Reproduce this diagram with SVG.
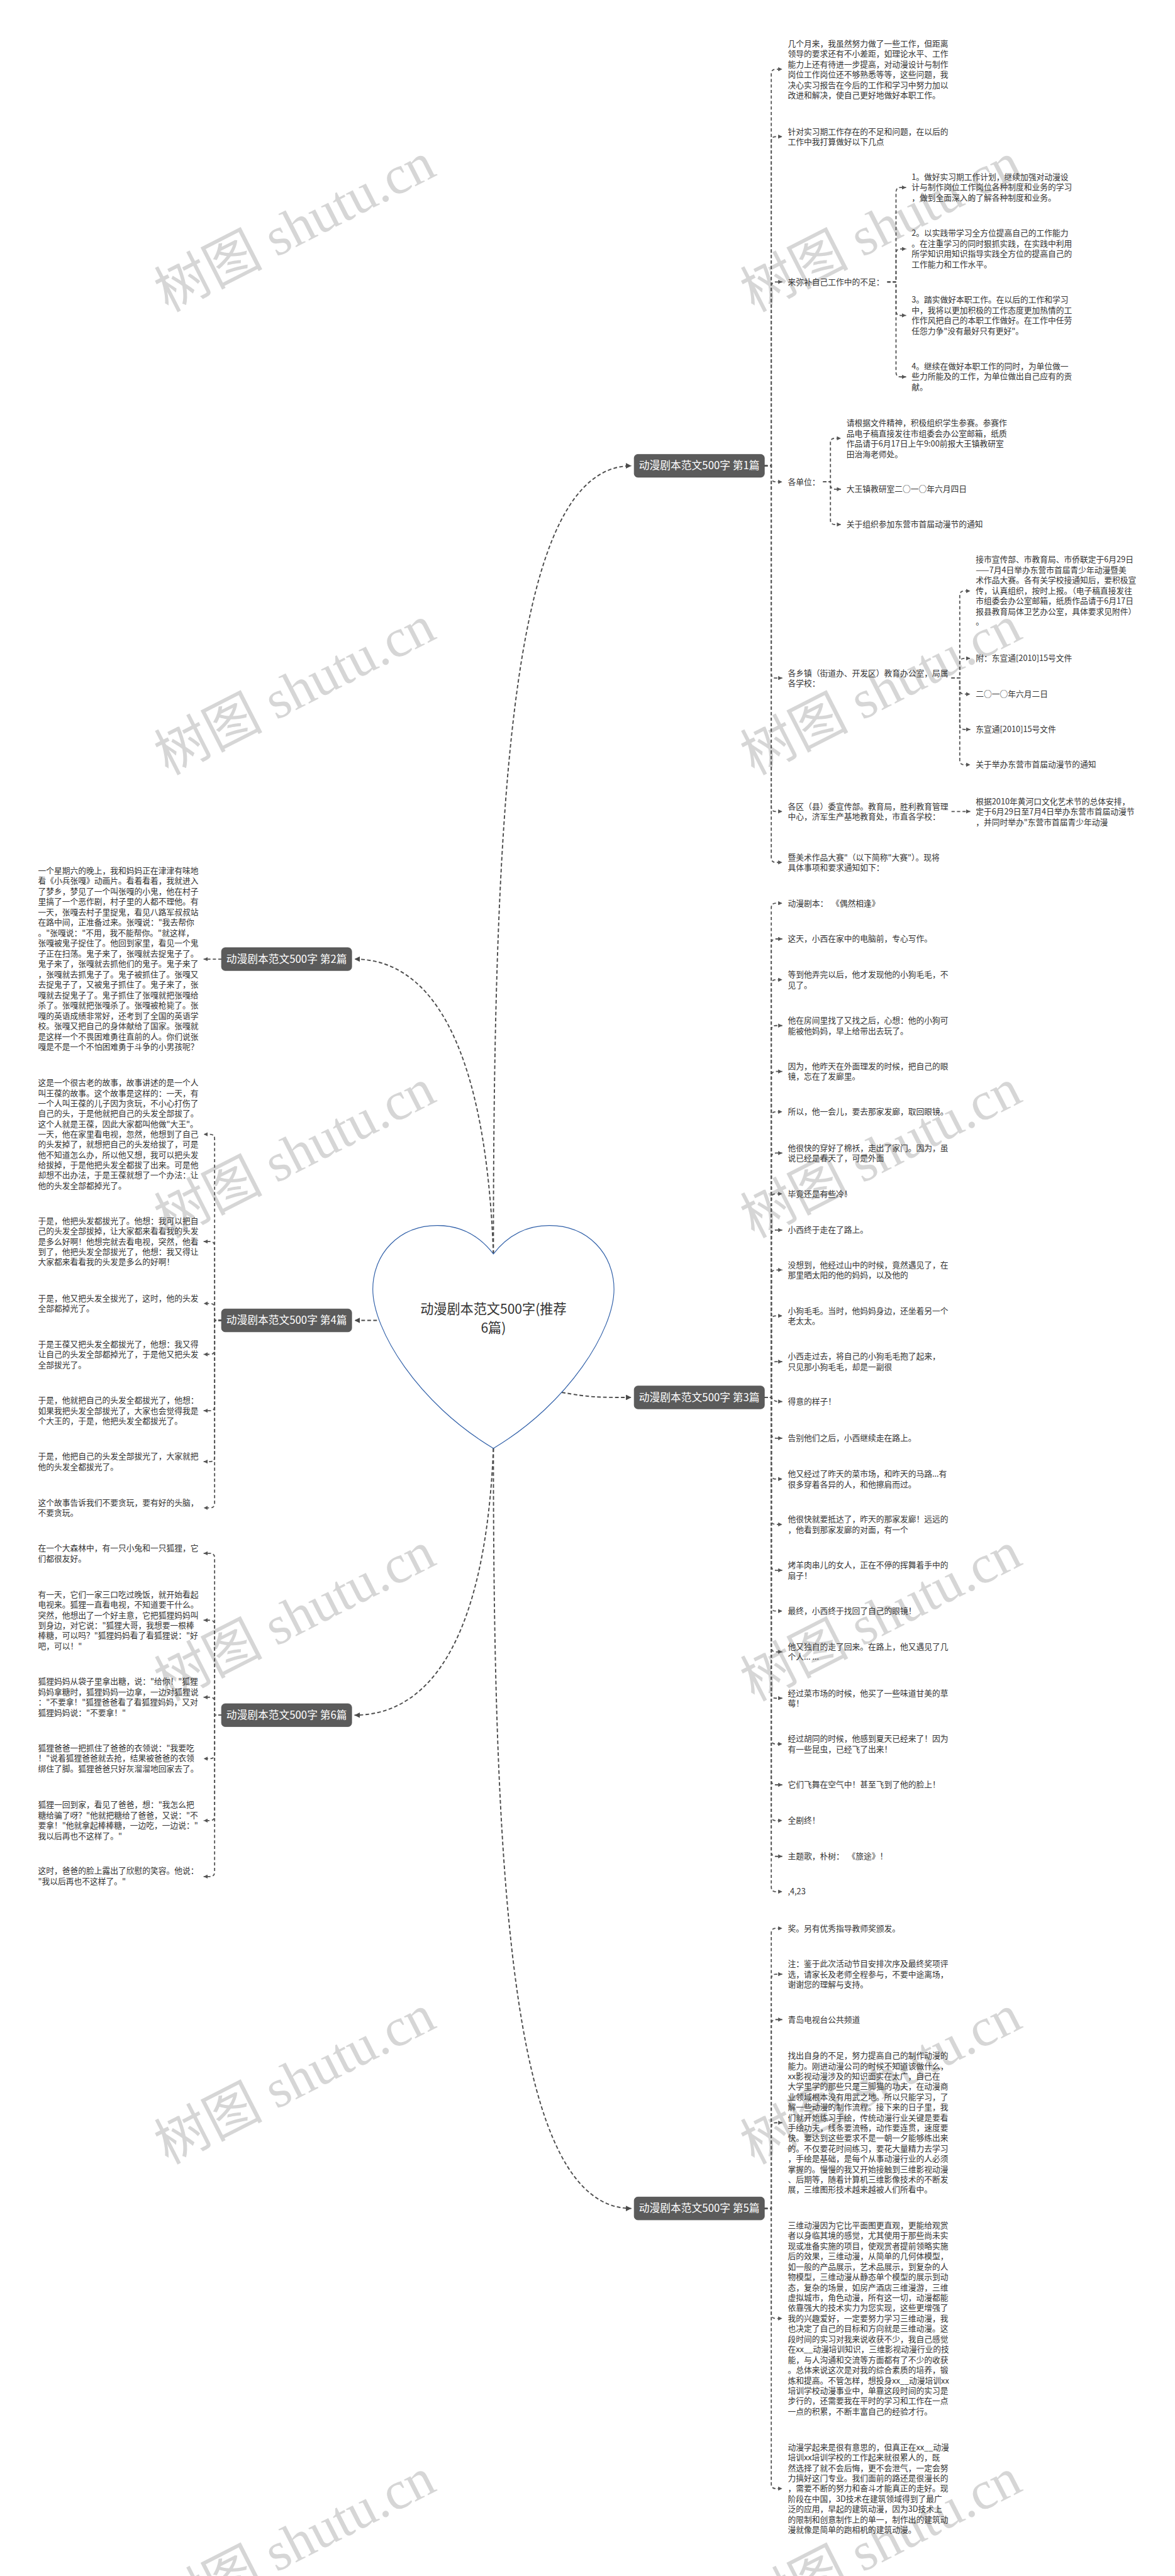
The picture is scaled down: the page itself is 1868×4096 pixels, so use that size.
<svg xmlns="http://www.w3.org/2000/svg" width="1868" height="4096" viewBox="0 0 1868 4096">
<style>
.t{font-family:"Noto Sans CJK SC","Liberation Sans",sans-serif;font-size:17.5px;fill:#333}
.lbl{font-family:"Noto Sans CJK SC","Liberation Sans",sans-serif;font-size:23px;fill:#fff;text-anchor:middle}
.ctr{font-family:"Noto Sans CJK SC","Liberation Sans",sans-serif;font-size:29px;fill:#333;text-anchor:middle}
.box{fill:#5b5b5b;stroke:#4a4a4a;stroke-width:1}
.c{fill:none;stroke:#555;stroke-width:2.5;stroke-dasharray:7 5;marker-end:url(#ah)}
.cm{fill:none;stroke:#4a4a4a;stroke-width:2.6;stroke-dasharray:8 5;marker-end:url(#ah2)}
.wm{font-family:"Liberation Serif","Noto Sans CJK SC",serif;font-size:118px;fill:#d6d6d6;text-anchor:middle}
</style>
<defs>
<marker id="ah" viewBox="0 0 10 10" refX="10" refY="5" markerWidth="9" markerHeight="9" markerUnits="userSpaceOnUse" orient="auto"><path d="M0,0 L10,5 L0,10 z" fill="#555"/></marker>
<marker id="ah2" viewBox="0 0 10 10" refX="10" refY="5" markerWidth="12" markerHeight="12" markerUnits="userSpaceOnUse" orient="auto"><path d="M0,0 L10,5 L0,10 z" fill="#4a4a4a"/></marker>
</defs>
<rect width="1868" height="4096" fill="#fff"/>
<g transform="scale(0.729)">
<g id="watermarks">
<text class="wm" transform="translate(645 500) rotate(-27)" y="35">树图 shutu.cn</text>
<text class="wm" transform="translate(1923 500) rotate(-27)" y="35">树图 shutu.cn</text>
<text class="wm" transform="translate(645 1510) rotate(-27)" y="35">树图 shutu.cn</text>
<text class="wm" transform="translate(1923 1510) rotate(-27)" y="35">树图 shutu.cn</text>
<text class="wm" transform="translate(645 2520) rotate(-27)" y="35">树图 shutu.cn</text>
<text class="wm" transform="translate(1923 2520) rotate(-27)" y="35">树图 shutu.cn</text>
<text class="wm" transform="translate(645 3530) rotate(-27)" y="35">树图 shutu.cn</text>
<text class="wm" transform="translate(1923 3530) rotate(-27)" y="35">树图 shutu.cn</text>
<text class="wm" transform="translate(645 4540) rotate(-27)" y="35">树图 shutu.cn</text>
<text class="wm" transform="translate(1923 4540) rotate(-27)" y="35">树图 shutu.cn</text>
<text class="wm" transform="translate(645 5550) rotate(-27)" y="35">树图 shutu.cn</text>
<text class="wm" transform="translate(1923 5550) rotate(-27)" y="35">树图 shutu.cn</text>
</g>
<g id="connectors">
<path class="cm" d="M1076 2735 C1076 1700 1120 1016 1377 1016"/>
<path class="cm" d="M1076 2735 C1060 2300 950 2092 773 2092"/>
<path class="cm" d="M822 2880 H773"/>
<path class="cm" d="M1225 3037 C1290 3048 1300 3048 1377 3048"/>
<path class="cm" d="M1076 3159 C1060 3550 950 3741 773 3741"/>
<path class="cm" d="M1076 3159 C1076 4150 1120 4817 1377 4817"/>
<path class="c" d="M1667 1016 H1682 V161 Q1682 151 1692 151 H1706"/>
<path class="c" d="M1667 1016 H1682 V308 Q1682 298 1692 298 H1706"/>
<path class="c" d="M1667 1016 H1682 V625 Q1682 615 1692 615 H1706"/>
<path class="c" d="M1667 1016 H1682 V1041 Q1682 1051 1692 1051 H1706"/>
<path class="c" d="M1667 1016 H1682 V1469 Q1682 1479 1692 1479 H1706"/>
<path class="c" d="M1667 1016 H1682 V1760 Q1682 1770 1692 1770 H1706"/>
<path class="c" d="M1667 1016 H1682 V1871 Q1682 1881 1692 1881 H1706"/>
<path class="c" d="M1935 615 H1954 V419 Q1954 409 1964 409 H1976"/>
<path class="c" d="M1935 615 H1954 V553 Q1954 543 1964 543 H1976"/>
<path class="c" d="M1935 615 H1954 V678 Q1954 688 1964 688 H1976"/>
<path class="c" d="M1935 615 H1954 V812 Q1954 822 1964 822 H1976"/>
<path class="c" d="M1795 1051 H1811 V966 Q1811 956 1821 956 H1834"/>
<path class="c" d="M1795 1051 H1811 V1057 Q1811 1067 1821 1067 H1834"/>
<path class="c" d="M1795 1051 H1811 V1134 Q1811 1144 1821 1144 H1834"/>
<path class="c" d="M2075 1479 H2093 V1299 Q2093 1289 2103 1289 H2116"/>
<path class="c" d="M2075 1479 H2093 V1446 Q2093 1436 2103 1436 H2116"/>
<path class="c" d="M2075 1479 H2093 V1504 Q2093 1514 2103 1514 H2116"/>
<path class="c" d="M2075 1479 H2093 V1581 Q2093 1591 2103 1591 H2116"/>
<path class="c" d="M2075 1479 H2093 V1658 Q2093 1668 2103 1668 H2116"/>
<path class="c" d="M2075 1770 H2116"/>
<path class="c" d="M1667 3048 H1682 V1980 Q1682 1970 1692 1970 H1706"/>
<path class="c" d="M1667 3048 H1682 V2058 Q1682 2048 1692 2048 H1706"/>
<path class="c" d="M1667 3048 H1682 V2147 Q1682 2137 1692 2137 H1706"/>
<path class="c" d="M1667 3048 H1682 V2247 Q1682 2237 1692 2237 H1706"/>
<path class="c" d="M1667 3048 H1682 V2347 Q1682 2337 1692 2337 H1706"/>
<path class="c" d="M1667 3048 H1682 V2435 Q1682 2425 1692 2425 H1706"/>
<path class="c" d="M1667 3048 H1682 V2525 Q1682 2515 1692 2515 H1706"/>
<path class="c" d="M1667 3048 H1682 V2614 Q1682 2604 1692 2604 H1706"/>
<path class="c" d="M1667 3048 H1682 V2693 Q1682 2683 1692 2683 H1706"/>
<path class="c" d="M1667 3048 H1682 V2780 Q1682 2770 1692 2770 H1706"/>
<path class="c" d="M1667 3048 H1682 V2880 Q1682 2870 1692 2870 H1706"/>
<path class="c" d="M1667 3048 H1682 V2980 Q1682 2970 1692 2970 H1706"/>
<path class="c" d="M1667 3048 H1682 Q1688 3057 1696 3057 H1706"/>
<path class="c" d="M1667 3048 H1682 V3127 Q1682 3137 1692 3137 H1706"/>
<path class="c" d="M1667 3048 H1682 V3216 Q1682 3226 1692 3226 H1706"/>
<path class="c" d="M1667 3048 H1682 V3315 Q1682 3325 1692 3325 H1706"/>
<path class="c" d="M1667 3048 H1682 V3415 Q1682 3425 1692 3425 H1706"/>
<path class="c" d="M1667 3048 H1682 V3504 Q1682 3514 1692 3514 H1706"/>
<path class="c" d="M1667 3048 H1682 V3593 Q1682 3603 1692 3603 H1706"/>
<path class="c" d="M1667 3048 H1682 V3694 Q1682 3704 1692 3704 H1706"/>
<path class="c" d="M1667 3048 H1682 V3794 Q1682 3804 1692 3804 H1706"/>
<path class="c" d="M1667 3048 H1682 V3883 Q1682 3893 1692 3893 H1706"/>
<path class="c" d="M1667 3048 H1682 V3961 Q1682 3971 1692 3971 H1706"/>
<path class="c" d="M1667 3048 H1682 V4039 Q1682 4049 1692 4049 H1706"/>
<path class="c" d="M1667 3048 H1682 V4116 Q1682 4126 1692 4126 H1706"/>
<path class="c" d="M1667 4817 H1682 V4216 Q1682 4206 1692 4206 H1706"/>
<path class="c" d="M1667 4817 H1682 V4316 Q1682 4306 1692 4306 H1706"/>
<path class="c" d="M1667 4817 H1682 V4415 Q1682 4405 1692 4405 H1706"/>
<path class="c" d="M1667 4817 H1682 V4640 Q1682 4630 1692 4630 H1706"/>
<path class="c" d="M1667 4817 H1682 V5047 Q1682 5057 1692 5057 H1706"/>
<path class="c" d="M1667 4817 H1682 V5418 Q1682 5428 1692 5428 H1706"/>
<path class="c" d="M483 2092 H444"/>
<path class="c" d="M483 2880 H468 V2484 Q468 2474 458 2474 H444"/>
<path class="c" d="M483 2880 H468 V2718 Q468 2708 458 2708 H444"/>
<path class="c" d="M483 2880 H468 V2853 Q468 2843 458 2843 H444"/>
<path class="c" d="M483 2880 H468 V2944 Q468 2954 458 2954 H444"/>
<path class="c" d="M483 2880 H468 V3067 Q468 3077 458 3077 H444"/>
<path class="c" d="M483 2880 H468 V3178 Q468 3188 458 3188 H444"/>
<path class="c" d="M483 2880 H468 V3279 Q468 3289 458 3289 H444"/>
<path class="c" d="M483 3741 H468 V3398 Q468 3388 458 3388 H444"/>
<path class="c" d="M483 3741 H468 V3544 Q468 3534 458 3534 H444"/>
<path class="c" d="M483 3741 H468 V3712 Q468 3702 458 3702 H444"/>
<path class="c" d="M483 3741 H468 V3826 Q468 3836 458 3836 H444"/>
<path class="c" d="M483 3741 H468 V3961 Q468 3971 458 3971 H444"/>
<path class="c" d="M483 3741 H468 V4083 Q468 4093 458 4093 H444"/>
</g>
<g id="root">
<path d="M1076 2735 C1045 2695 1005 2673 954 2673 C870 2673 813 2735 813 2812 C813 2900 910 3060 1076 3159 C1242 3060 1339 2900 1339 2812 C1339 2735 1282 2673 1198 2673 C1147 2673 1107 2695 1076 2735 Z" fill="#fff" stroke="#2f5fa8" stroke-width="1.6"/>
<text class="ctr" x="1076" y="2865">动漫剧本范文500字(推荐<tspan x="1076" dy="42">6篇)</tspan></text>
</g>
<g id="b1"><rect class="box" x="1383" y="991" width="284" height="50" rx="8"/><text class="lbl" x="1525" y="1024">动漫剧本范文500字 第1篇</text></g>
<g id="b2"><rect class="box" x="483" y="2067" width="284" height="50" rx="8"/><text class="lbl" x="625" y="2100">动漫剧本范文500字 第2篇</text></g>
<g id="b3"><rect class="box" x="1383" y="3023" width="284" height="50" rx="8"/><text class="lbl" x="1525" y="3056">动漫剧本范文500字 第3篇</text></g>
<g id="b4"><rect class="box" x="483" y="2855" width="284" height="50" rx="8"/><text class="lbl" x="625" y="2888">动漫剧本范文500字 第4篇</text></g>
<g id="b5"><rect class="box" x="1383" y="4792" width="284" height="50" rx="8"/><text class="lbl" x="1525" y="4825">动漫剧本范文500字 第5篇</text></g>
<g id="b6"><rect class="box" x="483" y="3716" width="284" height="50" rx="8"/><text class="lbl" x="625" y="3749">动漫剧本范文500字 第6篇</text></g>
<g id="n1-1"><text class="t" x="1718" y="101">几个月来，我虽然努力做了一些工作，但距离<tspan x="1718" dy="22.6">领导的要求还有不小差距，如理论水平、工作</tspan><tspan x="1718" dy="22.6">能力上还有待进一步提高，对动漫设计与制作</tspan><tspan x="1718" dy="22.6">岗位工作岗位还不够熟悉等等，这些问题，我</tspan><tspan x="1718" dy="22.6">决心实习报告在今后的工作和学习中努力加以</tspan><tspan x="1718" dy="22.6">改进和解决，使自己更好地做好本职工作。</tspan></text></g>
<g id="n1-2"><text class="t" x="1718" y="293">针对实习期工作存在的不足和问题，在以后的<tspan x="1718" dy="22.6">工作中我打算做好以下几点</tspan></text></g>
<g id="n1-3"><text class="t" x="1718" y="621">来弥补自己工作中的不足：</text></g>
<g id="n1-3-1"><text class="t" x="1988" y="392">1。做好实习期工作计划，继续加强对动漫设<tspan x="1988" dy="22.6">计与制作岗位工作岗位各种制度和业务的学习</tspan><tspan x="1988" dy="22.6">，做到全面深入的了解各种制度和业务。</tspan></text></g>
<g id="n1-3-2"><text class="t" x="1988" y="515">2。以实践带学习全方位提高自己的工作能力<tspan x="1988" dy="22.6">。在注重学习的同时狠抓实践，在实践中利用</tspan><tspan x="1988" dy="22.6">所学知识用知识指导实践全方位的提高自己的</tspan><tspan x="1988" dy="22.6">工作能力和工作水平。</tspan></text></g>
<g id="n1-3-3"><text class="t" x="1988" y="660">3。踏实做好本职工作。在以后的工作和学习<tspan x="1988" dy="22.6">中，我将以更加积极的工作态度更加热情的工</tspan><tspan x="1988" dy="22.6">作作风把自己的本职工作做好。在工作中任劳</tspan><tspan x="1988" dy="22.6">任怨力争"没有最好只有更好"。</tspan></text></g>
<g id="n1-3-4"><text class="t" x="1988" y="805">4。继续在做好本职工作的同时，为单位做一<tspan x="1988" dy="22.6">些力所能及的工作，为单位做出自己应有的贡</tspan><tspan x="1988" dy="22.6">献。</tspan></text></g>
<g id="n1-4"><text class="t" x="1718" y="1057">各单位：</text></g>
<g id="n1-4-1"><text class="t" x="1846" y="929">请根据文件精神，积极组织学生参赛。参赛作<tspan x="1846" dy="22.6">品电子稿直接发往市组委会办公室邮箱，纸质</tspan><tspan x="1846" dy="22.6">作品请于6月17日上午9:00前报大王镇教研室</tspan><tspan x="1846" dy="22.6">田治海老师处。</tspan></text></g>
<g id="n1-4-2"><text class="t" x="1846" y="1073">大王镇教研室二○一○年六月四日</text></g>
<g id="n1-4-3"><text class="t" x="1846" y="1150">关于组织参加东营市首届动漫节的通知</text></g>
<g id="n1-5"><text class="t" x="1718" y="1474">各乡镇（街道办、开发区）教育办公室，局属<tspan x="1718" dy="22.6">各学校：</tspan></text></g>
<g id="n1-5-1"><text class="t" x="2128" y="1227">接市宣传部、市教育局、市侨联定于6月29日<tspan x="2128" dy="22.6">——7月4日举办东营市首届青少年动漫暨美</tspan><tspan x="2128" dy="22.6">术作品大赛。各有关学校接通知后，要积极宣</tspan><tspan x="2128" dy="22.6">传，认真组织，按时上报。（电子稿直接发往</tspan><tspan x="2128" dy="22.6">市组委会办公室邮箱，纸质作品请于6月17日</tspan><tspan x="2128" dy="22.6">报县教育局体卫艺办公室，具体要求见附件）</tspan><tspan x="2128" dy="22.6">。</tspan></text></g>
<g id="n1-5-2"><text class="t" x="2128" y="1442">附：东宣通[2010]15号文件</text></g>
<g id="n1-5-3"><text class="t" x="2128" y="1520">二○一○年六月二日</text></g>
<g id="n1-5-4"><text class="t" x="2128" y="1597">东宣通[2010]15号文件</text></g>
<g id="n1-5-5"><text class="t" x="2128" y="1674">关于举办东营市首届动漫节的通知</text></g>
<g id="n1-6"><text class="t" x="1718" y="1765">各区（县）委宣传部。教育局，胜利教育管理<tspan x="1718" dy="22.6">中心，济军生产基地教育处，市直各学校：</tspan></text></g>
<g id="n1-6-1"><text class="t" x="2128" y="1754">根据2010年黄河口文化艺术节的总体安排，<tspan x="2128" dy="22.6">定于6月29日至7月4日举办东营市首届动漫节</tspan><tspan x="2128" dy="22.6">，并同时举办"东营市首届青少年动漫</tspan></text></g>
<g id="n1-7"><text class="t" x="1718" y="1876">暨美术作品大赛"（以下简称"大赛"）。现将<tspan x="1718" dy="22.6">具体事项和要求通知如下：</tspan></text></g>
<g id="n3-1"><text class="t" x="1718" y="1976">动漫剧本：&#160;&#160;《偶然相逢》</text></g>
<g id="n3-2"><text class="t" x="1718" y="2054">这天，小西在家中的电脑前，专心写作。</text></g>
<g id="n3-3"><text class="t" x="1718" y="2132">等到他弄完以后，他才发现他的小狗毛毛，不<tspan x="1718" dy="22.5">见了。</tspan></text></g>
<g id="n3-4"><text class="t" x="1718" y="2232">他在房间里找了又找之后，心想：他的小狗可<tspan x="1718" dy="22.5">能被他妈妈，早上给带出去玩了。</tspan></text></g>
<g id="n3-5"><text class="t" x="1718" y="2332">因为，他昨天在外面理发的时候，把自己的眼<tspan x="1718" dy="22.5">镜，忘在了发廊里。</tspan></text></g>
<g id="n3-6"><text class="t" x="1718" y="2431">所以，他一会儿，要去那家发廊，取回眼镜。</text></g>
<g id="n3-7"><text class="t" x="1718" y="2510">他很快的穿好了棉袄，走出了家门。因为，虽<tspan x="1718" dy="22.5">说已经是春天了，可是外面</tspan></text></g>
<g id="n3-8"><text class="t" x="1718" y="2610">毕竟还是有些冷！</text></g>
<g id="n3-9"><text class="t" x="1718" y="2689">小西终于走在了路上。</text></g>
<g id="n3-10"><text class="t" x="1718" y="2765">没想到，他经过山中的时候，竟然遇见了，在<tspan x="1718" dy="22.5">那里晒太阳的他的妈妈，以及他的</tspan></text></g>
<g id="n3-11"><text class="t" x="1718" y="2865">小狗毛毛。当时，他妈妈身边，还坐着另一个<tspan x="1718" dy="22.5">老太太。</tspan></text></g>
<g id="n3-12"><text class="t" x="1718" y="2965">小西走过去，将自己的小狗毛毛抱了起来，<tspan x="1718" dy="22.5">只见那小狗毛毛，却是一副很</tspan></text></g>
<g id="n3-13"><text class="t" x="1718" y="3063">得意的样子！</text></g>
<g id="n3-14"><text class="t" x="1718" y="3143">告别他们之后，小西继续走在路上。</text></g>
<g id="n3-15"><text class="t" x="1718" y="3221">他又经过了昨天的菜市场，和昨天的马路...有<tspan x="1718" dy="22.5">很多穿着各异的人，和他擦肩而过。</tspan></text></g>
<g id="n3-16"><text class="t" x="1718" y="3320">他很快就要抵达了，昨天的那家发廊！远远的<tspan x="1718" dy="22.5">，他看到那家发廊的对面，有一个</tspan></text></g>
<g id="n3-17"><text class="t" x="1718" y="3420">烤羊肉串儿的女人，正在不停的挥舞着手中的<tspan x="1718" dy="22.5">扇子！</tspan></text></g>
<g id="n3-18"><text class="t" x="1718" y="3520">最终，小西终于找回了自己的眼镜！</text></g>
<g id="n3-19"><text class="t" x="1718" y="3598">他又独自的走了回来。在路上，他又遇见了几<tspan x="1718" dy="22.5">个人... ...</tspan></text></g>
<g id="n3-20"><text class="t" x="1718" y="3699">经过菜市场的时候，他买了一些味道甘美的草<tspan x="1718" dy="22.5">莓！</tspan></text></g>
<g id="n3-21"><text class="t" x="1718" y="3799">经过胡同的时候，他感到夏天已经来了！因为<tspan x="1718" dy="22.5">有一些昆虫，已经飞了出来！</tspan></text></g>
<g id="n3-22"><text class="t" x="1718" y="3899">它们飞舞在空气中！甚至飞到了他的脸上！</text></g>
<g id="n3-23"><text class="t" x="1718" y="3977">全剧终！</text></g>
<g id="n3-24"><text class="t" x="1718" y="4055">主题歌，朴树：&#160;&#160;《旅途》！</text></g>
<g id="n3-25"><text class="t" x="1718" y="4132">,4,23</text></g>
<g id="n5-1"><text class="t" x="1718" y="4212">奖。另有优秀指导教师奖颁发。</text></g>
<g id="n5-2"><text class="t" x="1718" y="4290">注：鉴于此次活动节目安排次序及最终奖项评<tspan x="1718" dy="22.5">选，请家长及老师全程参与，不要中途离场，</tspan><tspan x="1718" dy="22.5">谢谢您的理解与支持。</tspan></text></g>
<g id="n5-3"><text class="t" x="1718" y="4411">青岛电视台公共频道</text></g>
<g id="n5-4"><text class="t" x="1718" y="4490">找出自身的不足，努力提高自己的制作动漫的<tspan x="1718" dy="22.5">能力。刚进动漫公司的时候不知道该做什么，</tspan><tspan x="1718" dy="22.5">xx影视动漫涉及的知识面实在太广，自己在</tspan><tspan x="1718" dy="22.5">大学里学的那些只是三脚猫的功夫，在动漫商</tspan><tspan x="1718" dy="22.5">业领域根本没有用武之地。所以只能学习，了</tspan><tspan x="1718" dy="22.5">解一些动漫的制作流程。接下来的日子里，我</tspan><tspan x="1718" dy="22.5">们就开始练习手绘，传统动漫行业关键是要看</tspan><tspan x="1718" dy="22.5">手绘功夫，线条要流畅，动作要连贯，速度要</tspan><tspan x="1718" dy="22.5">快。要达到这些要求不是一朝一夕能够练出来</tspan><tspan x="1718" dy="22.5">的。不仅要花时间练习，要花大量精力去学习</tspan><tspan x="1718" dy="22.5">，手绘是基础，是每个从事动漫行业的人必须</tspan><tspan x="1718" dy="22.5">掌握的。慢慢的我又开始接触到三维影视动漫</tspan><tspan x="1718" dy="22.5">、后期等，随着计算机三维影像技术的不断发</tspan><tspan x="1718" dy="22.5">展，三维图形技术越来越被人们所看中。</tspan></text></g>
<g id="n5-5"><text class="t" x="1718" y="4860">三维动漫因为它比平面图更直观，更能给观赏<tspan x="1718" dy="22.55">者以身临其境的感觉，尤其使用于那些尚未实</tspan><tspan x="1718" dy="22.55">现或准备实施的项目，使观赏者提前领略实施</tspan><tspan x="1718" dy="22.55">后的效果，三维动漫，从简单的几何体模型，</tspan><tspan x="1718" dy="22.55">如一般的产品展示，艺术品展示，到复杂的人</tspan><tspan x="1718" dy="22.55">物模型，三维动漫从静态单个模型的展示到动</tspan><tspan x="1718" dy="22.55">态，复杂的场景，如房产酒店三维漫游，三维</tspan><tspan x="1718" dy="22.55">虚拟城市，角色动漫，所有这一切，动漫都能</tspan><tspan x="1718" dy="22.55">依靠强大的技术实力为您实现，这些更增强了</tspan><tspan x="1718" dy="22.55">我的兴趣爱好，一定要努力学习三维动漫，我</tspan><tspan x="1718" dy="22.55">也决定了自己的目标和方向就是三维动漫。这</tspan><tspan x="1718" dy="22.55">段时间的实习对我来说收获不少，我自己感觉</tspan><tspan x="1718" dy="22.55">在xx__动漫培训知识，三维影视动漫行业的技</tspan><tspan x="1718" dy="22.55">能，与人沟通和交流等方面都有了不少的收获</tspan><tspan x="1718" dy="22.55">。总体来说这次是对我的综合素质的培养，锻</tspan><tspan x="1718" dy="22.55">炼和提高。不管怎样，想投身xx__动漫培训xx</tspan><tspan x="1718" dy="22.55">培训学校动漫事业中，单靠这段时间的实习是</tspan><tspan x="1718" dy="22.55">步行的，还需要我在平时的学习和工作在一点</tspan><tspan x="1718" dy="22.55">一点的积累，不断丰富自己的经验才行。</tspan></text></g>
<g id="n5-6"><text class="t" x="1718" y="5344">动漫学起来是很有意思的，但真正在xx__动漫<tspan x="1718" dy="22.5">培训xx培训学校的工作起来就很累人的，既</tspan><tspan x="1718" dy="22.5">然选择了就不会后悔，更不会泄气，一定会努</tspan><tspan x="1718" dy="22.5">力搞好这门专业。我们面前的路还是很漫长的</tspan><tspan x="1718" dy="22.5">，需要不断的努力和奋斗才能真正的走好。现</tspan><tspan x="1718" dy="22.5">阶段在中国，3D技术在建筑领域得到了最广</tspan><tspan x="1718" dy="22.5">泛的应用，早起的建筑动漫，因为3D技术上</tspan><tspan x="1718" dy="22.5">的限制和创意制作上的单一，制作出的建筑动</tspan><tspan x="1718" dy="22.5">漫就像是简单的跑相机的建筑动漫。</tspan></text></g>
<g id="n2-1"><text class="t" x="83" y="1905">一个星期六的晚上，我和妈妈正在津津有味地<tspan x="83" dy="22.65">看《小兵张嘎》动画片。看着看着，我就进入</tspan><tspan x="83" dy="22.65">了梦乡，梦见了一个叫张嘎的小鬼，他在村子</tspan><tspan x="83" dy="22.65">里搞了一个恶作剧，村子里的人都不理他。有</tspan><tspan x="83" dy="22.65">一天，张嘎去村子里捉鬼，看见八路军叔叔站</tspan><tspan x="83" dy="22.65">在路中间，正准备过来。张嘎说："我去帮你</tspan><tspan x="83" dy="22.65">。"张嘎说："不用，我不能帮你。"就这样，</tspan><tspan x="83" dy="22.65">张嘎被鬼子捉住了。他回到家里，看见一个鬼</tspan><tspan x="83" dy="22.65">子正在扫荡。鬼子来了，张嘎就去捉鬼子了。</tspan><tspan x="83" dy="22.65">鬼子来了，张嘎就去抓他们的鬼子。鬼子来了</tspan><tspan x="83" dy="22.65">，张嘎就去抓鬼子了。鬼子被抓住了。张嘎又</tspan><tspan x="83" dy="22.65">去捉鬼子了，又被鬼子抓住了。鬼子来了，张</tspan><tspan x="83" dy="22.65">嘎就去捉鬼子了。鬼子抓住了张嘎就把张嘎给</tspan><tspan x="83" dy="22.65">杀了。张嘎就把张嘎杀了。张嘎被枪毙了。张</tspan><tspan x="83" dy="22.65">嘎的英语成绩非常好，还考到了全国的英语学</tspan><tspan x="83" dy="22.65">校。张嘎又把自己的身体献给了国家。张嘎就</tspan><tspan x="83" dy="22.65">是这样一个不畏困难勇往直前的人。你们说张</tspan><tspan x="83" dy="22.65">嘎是不是一个不怕困难勇于斗争的小男孩呢？</tspan></text></g>
<g id="n4-1"><text class="t" x="83" y="2368">这是一个很古老的故事，故事讲述的是一个人<tspan x="83" dy="22.4">叫王葆的故事。这个故事是这样的：一天，有</tspan><tspan x="83" dy="22.4">一个人叫王葆的儿子因为贪玩，不小心打伤了</tspan><tspan x="83" dy="22.4">自己的头，于是他就把自己的头发全部拔了。</tspan><tspan x="83" dy="22.4">这个人就是王葆，因此大家都叫他做"大王"。</tspan><tspan x="83" dy="22.4">一天，他在家里看电视，忽然，他想到了自己</tspan><tspan x="83" dy="22.4">的头发掉了，就想把自己的头发给拔了，可是</tspan><tspan x="83" dy="22.4">他不知道怎么办，所以他又想，我可以把头发</tspan><tspan x="83" dy="22.4">给拔掉，于是他把头发全都拔了出来。可是他</tspan><tspan x="83" dy="22.4">却想不出办法，于是王葆就想了一个办法：让</tspan><tspan x="83" dy="22.4">他的头发全部都掉光了。</tspan></text></g>
<g id="n4-2"><text class="t" x="83" y="2669">于是，他把头发都拔光了。他想：我可以把自<tspan x="83" dy="22.5">己的头发全部拔掉，让大家都来看看我的头发</tspan><tspan x="83" dy="22.5">是多么好啊！他想完就去看电视，突然，他看</tspan><tspan x="83" dy="22.5">到了，他把头发全部拔光了，他想：我又得让</tspan><tspan x="83" dy="22.5">大家都来看看我的头发是多么的好啊！</tspan></text></g>
<g id="n4-3"><text class="t" x="83" y="2838">于是，他又把头发全拔光了，这时，他的头发<tspan x="83" dy="22.5">全部都掉光了。</tspan></text></g>
<g id="n4-4"><text class="t" x="83" y="2938">于是王葆又把头发全都拔光了，他想：我又得<tspan x="83" dy="22.5">让自己的头发全部都掉光了，于是他又把头发</tspan><tspan x="83" dy="22.5">全部拔光了。</tspan></text></g>
<g id="n4-5"><text class="t" x="83" y="3061">于是，他就把自己的头发全都拔光了，他想：<tspan x="83" dy="22.5">如果我把头发全部拔光了，大家也会觉得我是</tspan><tspan x="83" dy="22.5">个大王的，于是，他把头发全都拔光了。</tspan></text></g>
<g id="n4-6"><text class="t" x="83" y="3183">于是，他把自己的头发全部拔光了，大家就把<tspan x="83" dy="22.5">他的头发全都拔光了。</tspan></text></g>
<g id="n4-7"><text class="t" x="83" y="3284">这个故事告诉我们不要贪玩，要有好的头脑，<tspan x="83" dy="22.5">不要贪玩。</tspan></text></g>
<g id="n6-1"><text class="t" x="83" y="3383">在一个大森林中，有一只小兔和一只狐狸，它<tspan x="83" dy="22.5">们都很友好。</tspan></text></g>
<g id="n6-2"><text class="t" x="83" y="3484">有一天，它们一家三口吃过晚饭，就开始看起<tspan x="83" dy="22.5">电视来。狐狸一直看电视，不知道要干什么。</tspan><tspan x="83" dy="22.5">突然，他想出了一个好主意，它把狐狸妈妈叫</tspan><tspan x="83" dy="22.5">到身边，对它说："狐狸大哥，我想要一根棒</tspan><tspan x="83" dy="22.5">棒糖，可以吗？"狐狸妈妈看了看狐狸说："好</tspan><tspan x="83" dy="22.5">吧，可以！"</tspan></text></g>
<g id="n6-3"><text class="t" x="83" y="3674">狐狸妈妈从袋子里拿出糖，说："给你！"狐狸<tspan x="83" dy="22.5">妈妈拿糖时，狐狸妈妈一边拿，一边对狐狸说</tspan><tspan x="83" dy="22.5">："不要拿！"狐狸爸爸看了看狐狸妈妈，又对</tspan><tspan x="83" dy="22.5">狐狸妈妈说："不要拿！"</tspan></text></g>
<g id="n6-4"><text class="t" x="83" y="3819">狐狸爸爸一把抓住了爸爸的衣领说："我要吃<tspan x="83" dy="22.5">！"说着狐狸爸爸就去抢，结果被爸爸的衣领</tspan><tspan x="83" dy="22.5">绑住了脚。狐狸爸爸只好灰溜溜地回家去了。</tspan></text></g>
<g id="n6-5"><text class="t" x="83" y="3943">狐狸一回到家，看见了爸爸，想："我怎么把<tspan x="83" dy="22.5">糖给骗了呀？"他就把糖给了爸爸，又说："不</tspan><tspan x="83" dy="22.5">要拿！"他就拿起棒棒糖，一边吃，一边说："</tspan><tspan x="83" dy="22.5">我以后再也不这样了。"</tspan></text></g>
<g id="n6-6"><text class="t" x="83" y="4087">这时，爸爸的脸上露出了欣慰的笑容。他说：<tspan x="83" dy="22.5">"我以后再也不这样了。"</tspan></text></g>
</g>
</svg>
